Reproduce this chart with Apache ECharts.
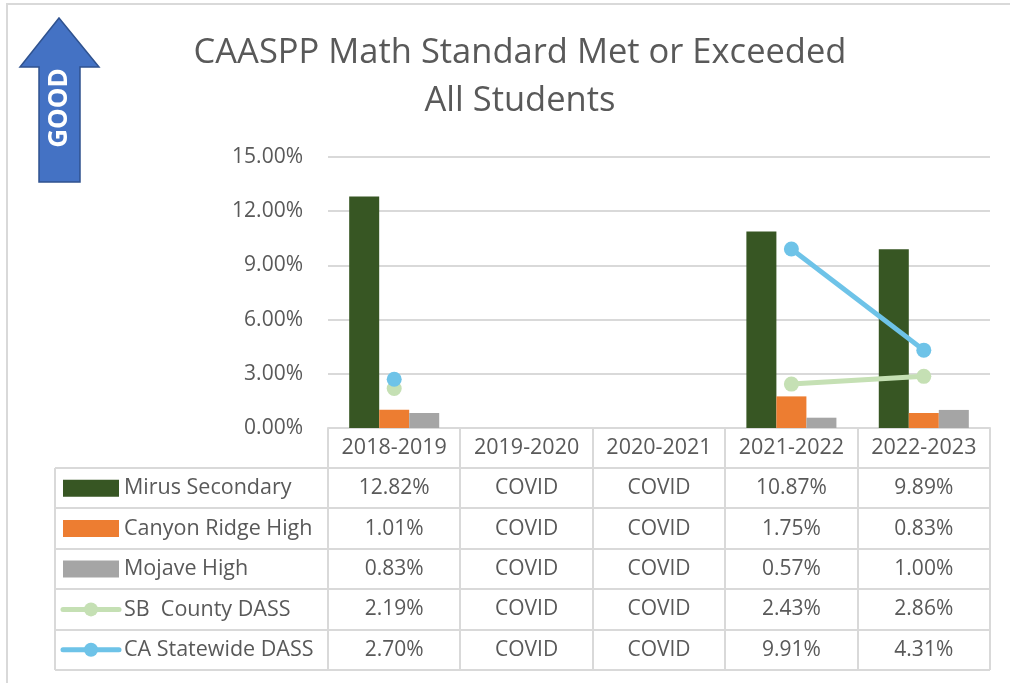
<!DOCTYPE html>
<html>
<head>
<meta charset="utf-8">
<script src="https://cdn.jsdelivr.net/npm/echarts@6/dist/echarts.min.js"></script>
<style>
  html, body { margin: 0; padding: 0; background: #fff; }
  #chart { width: 1010px; height: 683px; }
</style>
</head>
<body>
<div id="chart"></div>
<script>
'use strict';

const years = ['2018-2019', '2019-2020', '2020-2021', '2021-2022', '2022-2023'];
const seriesNames = ['Mirus Secondary', 'Canyon Ridge High', 'Mojave High', 'SB  County DASS', 'CA Statewide DASS'];
// null = no data (COVID years)
const mirus = [12.82, null, null, 10.87, 9.89];
const canyonRidge = [1.01, null, null, 1.75, 0.83];
const mojave = [0.83, null, null, 0.57, 1.00];
const sbCounty = [2.19, null, null, 2.43, 2.86];
const caStatewide = [2.70, null, null, 9.91, 4.31];
const missingLabel = 'COVID';
const yTicks = [0, 3, 6, 9, 12, 15];

const colors = ['#375623', '#ED7D31', '#A5A5A5', '#C5E0B4', '#6EC3E8'];
const font = '"Open Sans", "Noto Sans", sans-serif';
const textColor = '#595959';
const lineColor = '#D9D9D9';

// table layout
const plotLeft = 328, plotRight = 990, axisY = 428;
const tableLeft = 55, rowTop = 468, rowH = 40.4;
const colW = (plotRight - plotLeft) / years.length;

function fmt(v) {
  return v == null ? missingLabel : v.toFixed(2) + '%';
}

function makeTable() {
  const allData = [mirus, canyonRidge, mojave, sbCounty, caStatewide];
  const els = [];
  const bottom = rowTop + rowH * seriesNames.length;
  // horizontal lines
  for (let i = 0; i <= seriesNames.length; i++) {
    const y = Math.round(rowTop + rowH * i);
    els.push({ type: 'line', shape: { x1: tableLeft, y1: y, x2: plotRight, y2: y },
      style: { stroke: lineColor, lineWidth: 2 } });
  }
  // vertical lines
  els.push({ type: 'line', shape: { x1: tableLeft, y1: rowTop, x2: tableLeft, y2: bottom },
    style: { stroke: lineColor, lineWidth: 2 } });
  for (let j = 0; j <= years.length; j++) {
    const x = Math.round(plotLeft + colW * j);
    els.push({ type: 'line', shape: { x1: x, y1: axisY, x2: x, y2: bottom },
      style: { stroke: lineColor, lineWidth: 2 } });
  }
  seriesNames.forEach((name, i) => {
    const cy = rowTop + rowH * i + rowH / 2;
    if (i < 3) {
      els.push({ type: 'rect', shape: { x: 63, y: cy - 8.5, width: 56, height: 17 },
        style: { fill: colors[i] } });
    } else {
      els.push({ type: 'line', shape: { x1: 63, y1: cy, x2: 119, y2: cy },
        style: { stroke: colors[i], lineWidth: 5, lineCap: 'round' } });
      els.push({ type: 'circle', shape: { cx: 91, cy: cy, r: 7 },
        style: { fill: colors[i] } });
    }
    els.push({ type: 'text', style: { text: name, x: 124, y: cy, fill: textColor,
      font: '21.5px ' + font, verticalAlign: 'middle', align: 'left' } });
    allData[i].forEach((v, j) => {
      els.push({ type: 'text', style: { text: fmt(v), x: plotLeft + colW * (j + 0.5), y: cy,
        fill: textColor, font: '21px ' + font, verticalAlign: 'middle', align: 'center' } });
    });
  });
  return els;
}

function makeArrow() {
  return [
    { type: 'polygon',
      shape: { points: [[59, 18], [99, 67], [80, 67], [80, 182], [39, 182], [39, 67], [20, 67]] },
      style: { fill: '#4472C4', stroke: '#2F528F', lineWidth: 1.5 } },
    { type: 'text', x: 60, y: 108, rotation: Math.PI / 2,
      style: { text: 'GOOD', fill: '#fff', font: 'bold 26px ' + font,
        align: 'center', verticalAlign: 'middle' } }
  ];
}

const chart = echarts.init(document.getElementById('chart'));

const option = {
  animation: false,
  title: {
    text: 'CAASPP Math Standard Met or Exceeded\nAll Students',
    left: 515, top: 24, textAlign: 'center',
    textStyle: { color: textColor, fontFamily: font, fontSize: 34.5, fontWeight: 'normal', lineHeight: 48 }
  },
  grid: { left: plotLeft, right: 1010 - plotRight, top: 157, bottom: 683 - axisY },
  xAxis: {
    type: 'category',
    data: years,
    axisLine: { lineStyle: { color: lineColor, width: 2 } },
    axisTick: { show: false },
    axisLabel: { color: textColor, fontFamily: font, fontSize: 21.5, margin: 9, interval: 0,
      hideOverlap: false }
  },
  yAxis: {
    type: 'value',
    min: yTicks[0], max: yTicks[yTicks.length - 1], interval: 3,
    axisLine: { show: false },
    axisTick: { show: false },
    splitLine: { lineStyle: { color: lineColor, width: 2 } },
    axisLabel: { color: textColor, fontFamily: font, fontSize: 21, margin: 25,
      formatter: v => v.toFixed(2) + '%' }
  },
  series: [
    { name: seriesNames[0], type: 'bar', data: mirus, barGap: '0%', barCategoryGap: '32%',
      itemStyle: { color: colors[0] } },
    { name: seriesNames[1], type: 'bar', data: canyonRidge, barGap: '0%', barCategoryGap: '32%',
      itemStyle: { color: colors[1] } },
    { name: seriesNames[2], type: 'bar', data: mojave, barGap: '0%', barCategoryGap: '32%',
      itemStyle: { color: colors[2] } },
    { name: seriesNames[3], type: 'line', data: sbCounty, symbol: 'circle', symbolSize: 15,
      showAllSymbol: true, connectNulls: false,
      lineStyle: { color: colors[3], width: 5 }, itemStyle: { color: colors[3] } },
    { name: seriesNames[4], type: 'line', data: caStatewide, symbol: 'circle', symbolSize: 15,
      showAllSymbol: true, connectNulls: false,
      lineStyle: { color: colors[4], width: 5 }, itemStyle: { color: colors[4] } }
  ],
  graphic: [
    { type: 'rect', shape: { x: 7, y: 4, width: 1020, height: 700 },
      style: { fill: 'none', stroke: lineColor, lineWidth: 2 }, silent: true }
  ].concat(makeArrow(), makeTable())
};

chart.setOption(option);
</script>
</body>
</html>
